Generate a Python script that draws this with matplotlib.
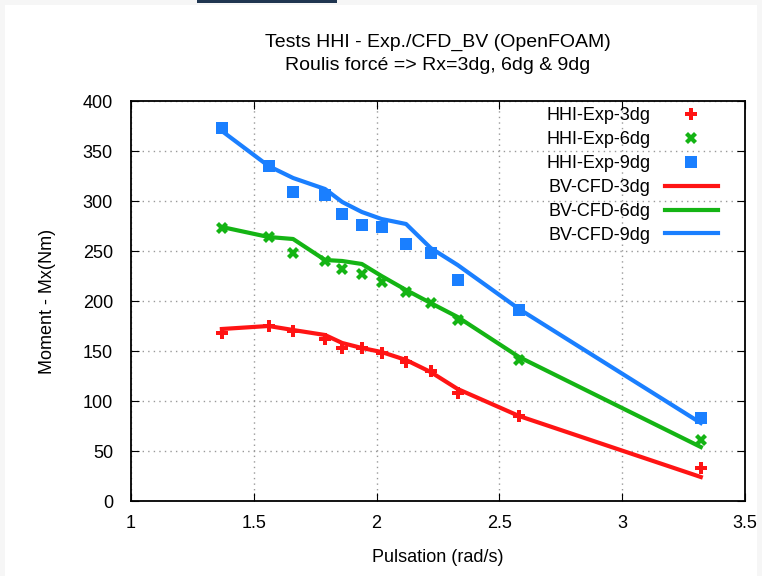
import numpy as np
import matplotlib
matplotlib.use("Agg")
import matplotlib.pyplot as plt
from matplotlib.patches import Rectangle

# pulsation (rad/s)
puls = [1.37, 1.56, 1.66, 1.79, 1.86, 1.94, 2.02, 2.12, 2.22, 2.33, 2.58, 3.32]

# HHI experiments, moment Mx (Nm)
exp_3dg = [168, 175, 170, 162, 153, 153, 148, 139, 130, 108, 85, 33]
exp_6dg = [273, 264, 248, 240, 232, 227, 219, 209, 198, 181, 141, 61]
exp_9dg = [373, 335, 309, 306, 287, 276, 274, 257, 248, 221, 191, 83]

# BV CFD (OpenFOAM)
cfd_3dg = [172, 175, 171, 166, 158, 153, 149, 141, 129, 112, 85, 24]
cfd_6dg = [274, 264, 262, 241, 240, 237, 225, 211, 198, 184, 144, 54]
cfd_9dg = [370, 335, 323, 312, 299, 289, 282, 277, 253, 236, 192, 78]

red = "#ff1414"
green = "#14b414"
blue = "#1a7fff"

plt.rcParams['font.family'] = ['Liberation Sans', 'DejaVu Sans']

fig = plt.figure(figsize=(7.62, 5.76), dpi=100)
fig.patch.set_facecolor("#f6f6f6")
fig.patches.append(Rectangle((5/762, 0), 1 - 10/762, 1 - 5/576, transform=fig.transFigure,
                             facecolor="white", edgecolor="none", zorder=-10))
fig.patches.append(Rectangle((197/762, 1 - 3/576), 140/762, 3/576, transform=fig.transFigure,
                             facecolor="#1f3550", edgecolor="none", zorder=-9))

ax = fig.add_axes([131/762, 75/576, 614/762, 400/576])

ax.plot(puls, exp_3dg, ls="none", marker="P", ms=8, color=red, mew=0, label="HHI-Exp-3dg")
ax.plot(puls, exp_6dg, ls="none", marker="X", ms=8, color=green, mew=0, label="HHI-Exp-6dg")
ax.plot(puls, exp_9dg, ls="none", marker="s", ms=8, color=blue, mew=0, label="HHI-Exp-9dg")
ax.plot(puls, cfd_3dg, color=red, lw=3, label="BV-CFD-3dg")
ax.plot(puls, cfd_6dg, color=green, lw=3, label="BV-CFD-6dg")
ax.plot(puls, cfd_9dg, color=blue, lw=3, label="BV-CFD-9dg")

ax.set_xlim(1, 3.5)
ax.set_ylim(0, 400)
ax.set_xticks([1, 1.5, 2, 2.5, 3, 3.5])
ax.set_xticklabels(["1", "1.5", "2", "2.5", "3", "3.5"])
ax.set_yticks(range(0, 401, 50))
ax.grid(True, ls=(0, (1, 3)), color="#999999", lw=1)
ax.tick_params(direction="in", top=True, right=True, length=6, labelsize=13, pad=10)
ax.tick_params(axis="y", pad=13)
for s in ax.spines.values():
    s.set_linewidth(1.3)

ax.set_xlabel("Pulsation (rad/s)", fontsize=13, labelpad=12)
ax.set_ylabel("Moment - Mx(Nm)", fontsize=13, labelpad=19)
ax.set_title("Tests HHI - Exp./CFD_BV (OpenFOAM)\nRoulis forcé => Rx=3dg, 6dg & 9dg",
             fontsize=14, pad=22, linespacing=1.5)

ax.legend(loc="upper right", frameon=False, markerfirst=False, fontsize=13,
          handlelength=2.9, labelspacing=0.38, borderaxespad=0.4,
          bbox_to_anchor=(1 - 13/614, 1 + 8/400))

fig.savefig("out.png", dpi=100)
